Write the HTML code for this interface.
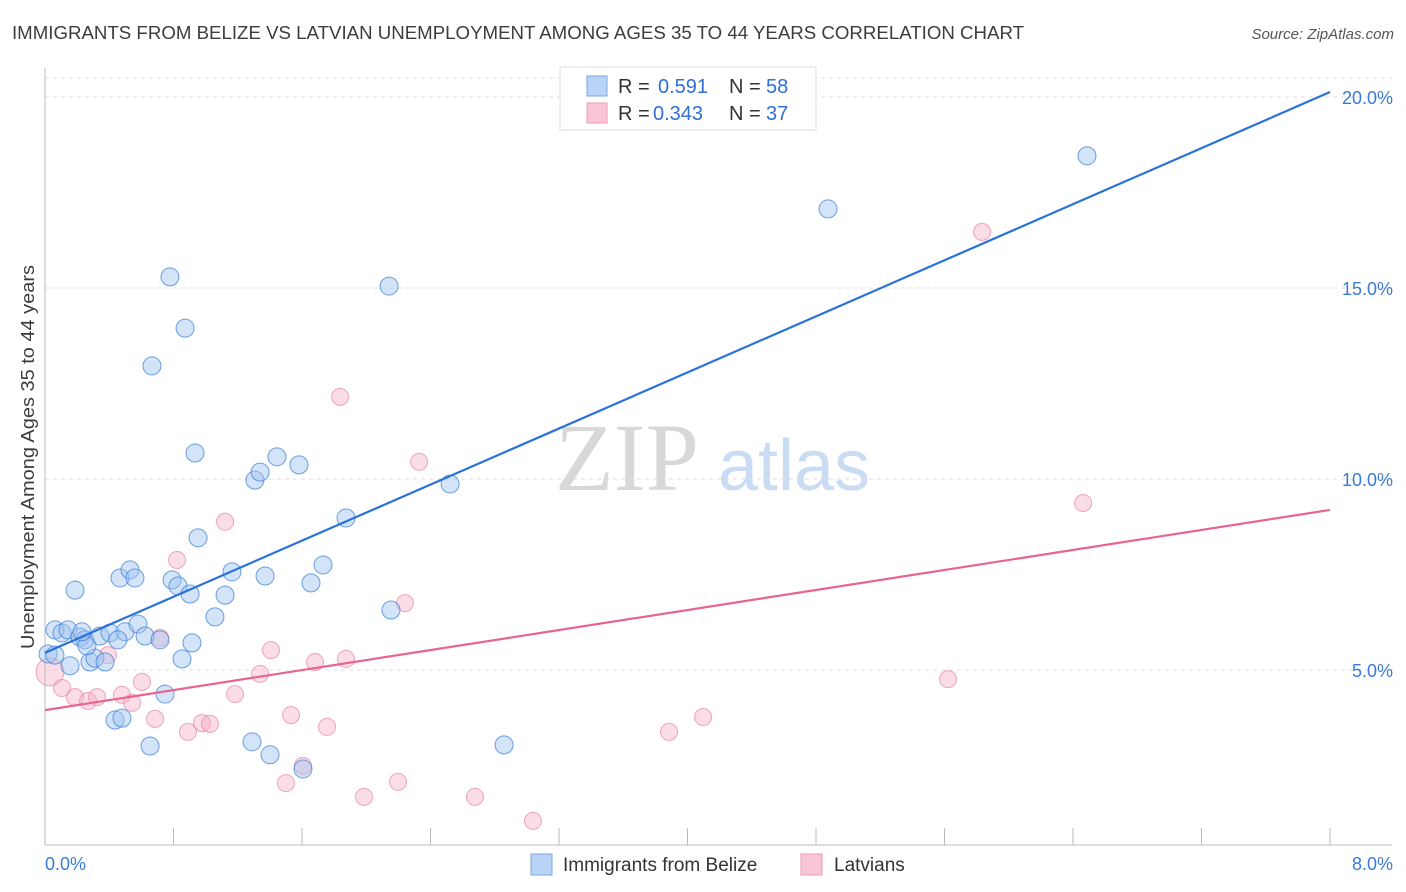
<!DOCTYPE html>
<html><head><meta charset="utf-8"><style>
body{margin:0;background:#fff;font-family:"Liberation Sans",sans-serif;}
</style></head><body>
<svg id="chart" width="1406" height="892" xmlns="http://www.w3.org/2000/svg" style="display:block">
<text x="12" y="39" font-size="18" fill="#3c3c3c" textLength="1012" lengthAdjust="spacingAndGlyphs">IMMIGRANTS FROM BELIZE VS LATVIAN UNEMPLOYMENT AMONG AGES 35 TO 44 YEARS CORRELATION CHART</text>
<text x="1394" y="39" font-size="15" fill="#555" text-anchor="end" font-style="italic">Source: ZipAtlas.com</text>
<g><text x="555" y="490" font-size="96" fill="#d8d8d8" font-family="Liberation Serif,serif">ZIP</text><text x="718" y="490" font-size="72" fill="#c9dcf3">atlas</text></g>
<g id="grid"></g>
<line x1="45" y1="845" x2="1392" y2="845" stroke="#bbb"/>
<line x1="45" y1="68" x2="45" y2="845" stroke="#bbb"/>
<g id="ticks"></g>
<text transform="translate(34,457) rotate(-90)" text-anchor="middle" font-size="18" fill="#3c3c3c" textLength="384" lengthAdjust="spacingAndGlyphs">Unemployment Among Ages 35 to 44 years</text>
<text x="45" y="870" font-size="18" fill="#3a7bd5">0.0%</text>
<text x="1393" y="870" font-size="18" fill="#3a7bd5" text-anchor="end">8.0%</text>
<g id="pts"></g>
<g id="lines"></g>
<g>
<rect x="560" y="67" width="256" height="63" fill="#fff" stroke="#ddd"/>
<rect x="587" y="76" width="20" height="20" fill="#b8d3f5" stroke="#7aa8e6"/>
<rect x="587" y="103" width="20" height="20" fill="#f9c6d5" stroke="#ee9ab4"/>
<text x="618" y="93" font-size="20" fill="#333">R = </text><text x="658" y="93" font-size="20" fill="#2f6fd6">0.591</text>
<text x="729" y="93" font-size="20" fill="#333">N = </text><text x="766" y="93" font-size="20" fill="#2f6fd6">58</text>
<text x="618" y="120" font-size="20" fill="#333">R = </text><text x="653" y="120" font-size="20" fill="#2f6fd6">0.343</text>
<text x="729" y="120" font-size="20" fill="#333">N = </text><text x="766" y="120" font-size="20" fill="#2f6fd6">37</text>
</g>
<g>
<rect x="531" y="854" width="21" height="21" fill="#b8d3f5" stroke="#7aa8e6"/>
<text x="563" y="871" font-size="19" fill="#333">Immigrants from Belize</text>
<rect x="801" y="854" width="21" height="21" fill="#f9c6d5" stroke="#ee9ab4"/>
<text x="834" y="871" font-size="19" fill="#333">Latvians</text>
</g>
</svg>
<script>
const yTicks=[5,10,15,20];
const yTickLabels=["5.0%","10.0%","15.0%","20.0%"];
const xTicks=[0,0.8,1.6,2.4,3.2,4.0,4.8,5.6,6.4,7.2,8.0];
const blueX=[0.062,0.106,0.143,0.187,0.218,0.249,0.280,0.311,0.342,0.374,0.405,0.436,0.467,0.479,0.498,0.529,0.560,0.579,0.623,0.654,0.666,0.716,0.747,0.778,0.791,0.828,0.853,0.872,0.903,0.915,0.934,0.953,1.058,1.121,1.164,1.289,1.307,1.339,1.370,1.401,1.444,1.581,1.606,1.656,1.731,1.874,2.142,2.154,2.522,2.858,4.875,6.487,0.019,0.156,0.261,0.062,0.230,0.454];
const blueY=[6.05,5.97,6.05,7.09,5.86,5.79,5.21,5.31,5.89,5.21,5.97,3.69,7.41,3.74,6.00,7.62,7.41,6.20,5.89,3.01,12.96,5.79,4.37,15.29,7.36,7.20,5.29,13.95,6.99,5.71,10.68,8.46,6.39,6.96,7.57,3.12,9.97,10.18,7.46,2.78,10.58,10.37,2.41,7.28,7.75,8.98,15.05,6.57,9.87,3.04,17.07,18.46,5.42,5.11,5.63,5.39,6.00,5.79];
const pinkX=[0.031,0.106,0.187,0.268,0.324,0.392,0.479,0.542,0.604,0.685,0.716,0.822,0.890,0.977,1.027,1.121,1.183,1.339,1.407,1.500,1.532,1.606,1.681,1.756,1.837,1.874,1.986,2.198,2.241,2.329,2.677,3.038,3.885,4.097,5.622,5.834,6.463];
const pinkY=[4.95,4.53,4.29,4.19,4.29,5.39,4.35,4.14,4.69,3.72,5.84,7.88,3.38,3.61,3.59,8.88,4.37,4.90,5.52,2.04,3.82,2.49,5.21,3.51,12.15,5.29,1.68,2.07,6.75,10.45,1.68,1.05,3.38,3.77,4.76,16.47,9.37];
const blueTrend=[5.45,20.13];
const pinkTrend=[3.95,9.19];
const NS="http://www.w3.org/2000/svg";
const X=v=>45+v/8*1285, Y=v=>861-v*38.2;
function mk(t,a,p){const e=document.createElementNS(NS,t);for(const k in a)e.setAttribute(k,a[k]);document.getElementById(p).appendChild(e);return e;}
let g=mk('line',{x1:45,x2:1392,y1:78,y2:78,stroke:'#ddd','stroke-dasharray':'4,4'},'grid');


yTicks.forEach((v,i)=>{
 const l=mk('line',{x1:45,x2:1392,y1:Y(v),y2:Y(v),stroke:'#ddd','stroke-dasharray':'4,4'},'grid');
 
 
 const t=mk('text',{x:1393,y:Y(v)+7,'font-size':18,fill:'#3a7bd5','text-anchor':'end'},'ticks');
 t.textContent=yTickLabels[i];
 
 
});
xTicks.forEach(v=>{
 const l=mk('line',{x1:X(v),x2:X(v),y1:828,y2:845,stroke:'#bbb'},'ticks');
 
 
});
pinkX.forEach((x,i)=>{
 const c=mk('circle',{cx:X(x),cy:Y(pinkY[i]),r:i==0?14:8.5,fill:'rgba(246,170,195,0.4)',stroke:'rgba(232,130,165,0.7)','stroke-width':1},'pts');
 
 
});
blueX.forEach((x,i)=>{
 const c=mk('circle',{cx:X(x),cy:Y(blueY[i]),r:9,fill:'rgba(160,196,240,0.45)',stroke:'rgba(60,130,215,0.75)','stroke-width':1},'pts');
 
 
});
let bl=mk('line',{x1:X(0),y1:Y(blueTrend[0]),x2:X(8),y2:Y(blueTrend[1]),stroke:'#2a72d9','stroke-width':2.2},'lines');


let pl=mk('line',{x1:X(0),y1:Y(pinkTrend[0]),x2:X(8),y2:Y(pinkTrend[1]),stroke:'#e8648f','stroke-width':2.2},'lines');


</script>
</body></html>
